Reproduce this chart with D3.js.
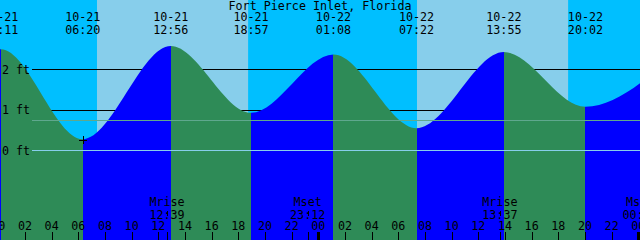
<!DOCTYPE html>
<html><head><meta charset="utf-8">
<script src="https://cdn.jsdelivr.net/npm/d3@7"></script>
<style>html,body{margin:0;padding:0;background:#fff;}svg{display:block;}</style>
</head><body>
<svg id="c" width="640" height="240"></svg>
<script>
const title = "Fort Pierce Inlet, Florida";
// tide events (local time)
const tideTimes   = ["2024-10-20 18:10","2024-10-21 00:11","2024-10-21 06:20","2024-10-21 12:56","2024-10-21 18:57","2024-10-22 01:08","2024-10-22 07:22","2024-10-22 13:55","2024-10-22 20:02","2024-10-23 02:30"];
const tideHeights = [0.85, 2.50, 0.28, 2.58, 0.93, 2.37, 0.55, 2.43, 1.08, 2.30];
const tideLabelDates = ["10-20","10-21","10-21","10-21","10-21","10-22","10-22","10-22","10-22","10-23"];
const tideLabelTimes = ["18:10","00:11","06:20","12:56","18:57","01:08","07:22","13:55","20:02","02:30"];
// sun
const sunrises = ["2024-10-21 07:24","2024-10-22 07:24"];
const sunsets  = ["2024-10-21 18:44","2024-10-22 18:44"];
// moon
const moonTimes  = ["2024-10-21 12:39","2024-10-21 23:12","2024-10-22 13:37","2024-10-23 00:08"];
const moonNames  = ["Mrise","Mset","Mrise","Mset"];
const moonLabels = ["12:39","23:12","13:37","00:08"];
// depth ticks
const depthTicks = [0,1,2];
const depthLabels = ["0 ft","1 ft","2 ft"];
const mslLevel = 0.74;

const W=640,H=240;
const parse = d3.utcParse("%Y-%m-%d %H:%M");
const x = d3.scaleUtc().domain([parse("2024-10-21 00:00"), parse("2024-10-23 00:00")]).range([-1.67, 638.33]);
const y = d3.scaleLinear().domain([0,2]).range([150.5,69.5]);
const svg = d3.select("#c");
const FONT = "'DejaVu Sans Mono', monospace";
const FS = "11.7px";

// background night
svg.append("rect").attr("x",0).attr("y",0).attr("width",W).attr("height",H).attr("fill","#00BFFF");
// day bands
svg.selectAll("rect.day").data(sunrises.map((s,i)=>[parse(s),parse(sunsets[i])])).join("rect")
  .attr("class","day").attr("x",d=>x(d[0])).attr("y",0).attr("width",d=>x(d[1])-x(d[0])).attr("height",H)
  .attr("fill","#87CEEB");

// depth lines (behind tide)
svg.selectAll("line.depth").data(depthTicks.filter(d=>d!==0)).join("line")
  .attr("x1",32).attr("x2",W).attr("y1",d=>y(d)).attr("y2",d=>y(d))
  .attr("stroke","#000").attr("stroke-width",1).attr("shape-rendering","crispEdges");

// tide curve
const pts = tideTimes.map((t,i)=>({t:parse(t),h:tideHeights[i],d:tideLabelDates[i],l:tideLabelTimes[i]}));
const clip = svg.append("defs");
const area = d3.area().x(d=>x(d.t)).y0(H).y1(d=>y(d.h)).curve(d3.curveMonotoneX);
clip.append("clipPath").attr("id","tc").append("path").attr("d",area(pts));
// segments between extremes: rising blue, falling green
const g = svg.append("g").attr("clip-path","url(#tc)");
for(let i=0;i<pts.length-1;i++){
  const a=pts[i],b=pts[i+1];
  g.append("rect").attr("x",x(a.t)).attr("y",0).attr("width",x(b.t)-x(a.t)).attr("height",H)
   .attr("fill", b.h>a.h ? "#0000FF" : "#2E8B57").attr("shape-rendering","crispEdges");
}

// msl & datum lines over tide
svg.append("line").attr("x1",32).attr("x2",W).attr("y1",y(mslLevel)).attr("y2",y(mslLevel))
  .attr("stroke","#5FA88E").attr("stroke-width",1).attr("shape-rendering","crispEdges");
svg.append("line").attr("x1",32).attr("x2",W).attr("y1",y(0)).attr("y2",y(0))
  .attr("stroke","#87CEEB").attr("stroke-width",1).attr("shape-rendering","crispEdges");

// plus marker at low
const mk = pts[2];
svg.append("path").attr("d",`M${x(mk.t)-3.5},${y(mk.h)+1}h8M${x(mk.t)+0.5},${y(mk.h)-3}v8`)
  .attr("stroke","#000").attr("stroke-width",1).attr("fill","none").attr("shape-rendering","crispEdges");

// depth labels
svg.selectAll("text.dl").data(depthTicks).join("text").attr("class","dl")
  .attr("x",2).attr("y",d=>y(d)+4).text((d,i)=>depthLabels[i])
  .attr("font-family",FONT).attr("font-size",FS).attr("fill","#000");

// title
svg.append("text").attr("x",320).attr("y",10).attr("text-anchor","middle").text(title)
  .attr("font-family",FONT).attr("font-size",FS).attr("fill","#000");

// tide event labels (only events near the visible span)
const vis = pts.filter(d=>x(d.t)>-10 && x(d.t)<650);
const tl = svg.selectAll("g.tl").data(vis).join("g").attr("class","tl");
tl.append("text").attr("x",d=>x(d.t)).attr("y",21).attr("text-anchor","middle").text(d=>d.d)
  .attr("font-family",FONT).attr("font-size",FS).attr("fill","#000");
tl.append("text").attr("x",d=>x(d.t)).attr("y",34).attr("text-anchor","middle").text(d=>d.l)
  .attr("font-family",FONT).attr("font-size",FS).attr("fill","#000");

// hour axis
const hours = x.ticks(d3.utcHour.every(2));
svg.selectAll("text.hr").data(hours).join("text").attr("class","hr")
  .attr("x",d=>x(d)).attr("y",230).attr("text-anchor","middle").text(d=>d3.utcFormat("%H")(d))
  .attr("font-family",FONT).attr("font-size",FS).attr("fill","#000");
svg.selectAll("line.hr").data(hours.filter(d=>d.getUTCHours()!==0)).join("line").attr("class","hr")
  .attr("x1",d=>Math.round(x(d))+0.5).attr("x2",d=>Math.round(x(d))+0.5).attr("y1",232).attr("y2",H)
  .attr("stroke","#000").attr("shape-rendering","crispEdges");
svg.selectAll("rect.mid").data(hours.filter(d=>d.getUTCHours()===0)).join("rect").attr("class","mid")
  .attr("x",d=>Math.round(x(d))-1).attr("y",232).attr("width",3).attr("height",8).attr("fill","#000");

// moon events
const moon = moonTimes.map((t,i)=>({t:parse(t),n:moonNames[i],l:moonLabels[i]}));
svg.selectAll("text.mn").data(moon).join("text").attr("class","mn")
  .attr("x",d=>x(d.t)).attr("y",206).attr("text-anchor","middle").text(d=>d.n)
  .attr("font-family",FONT).attr("font-size",FS).attr("fill","#000");
svg.selectAll("text.ml").data(moon).join("text").attr("class","ml")
  .attr("x",d=>x(d.t)).attr("y",219).attr("text-anchor","middle").text(d=>d.l)
  .attr("font-family",FONT).attr("font-size",FS).attr("fill","#000");
svg.selectAll("line.mt").data(moon).join("line").attr("class","mt")
  .attr("x1",d=>Math.round(x(d.t))+0.5).attr("x2",d=>Math.round(x(d.t))+0.5).attr("y1",232).attr("y2",H)
  .attr("stroke","#000").attr("shape-rendering","crispEdges");
svg.selectAll("line.mc").data(moon).join("line").attr("class","mc")
  .attr("x1",d=>Math.round(x(d.t))+0.5).attr("x2",d=>Math.round(x(d.t))+0.5).attr("y1",211).attr("y2",216)
  .attr("stroke","#000").attr("shape-rendering","crispEdges");
</script>
</body></html>
